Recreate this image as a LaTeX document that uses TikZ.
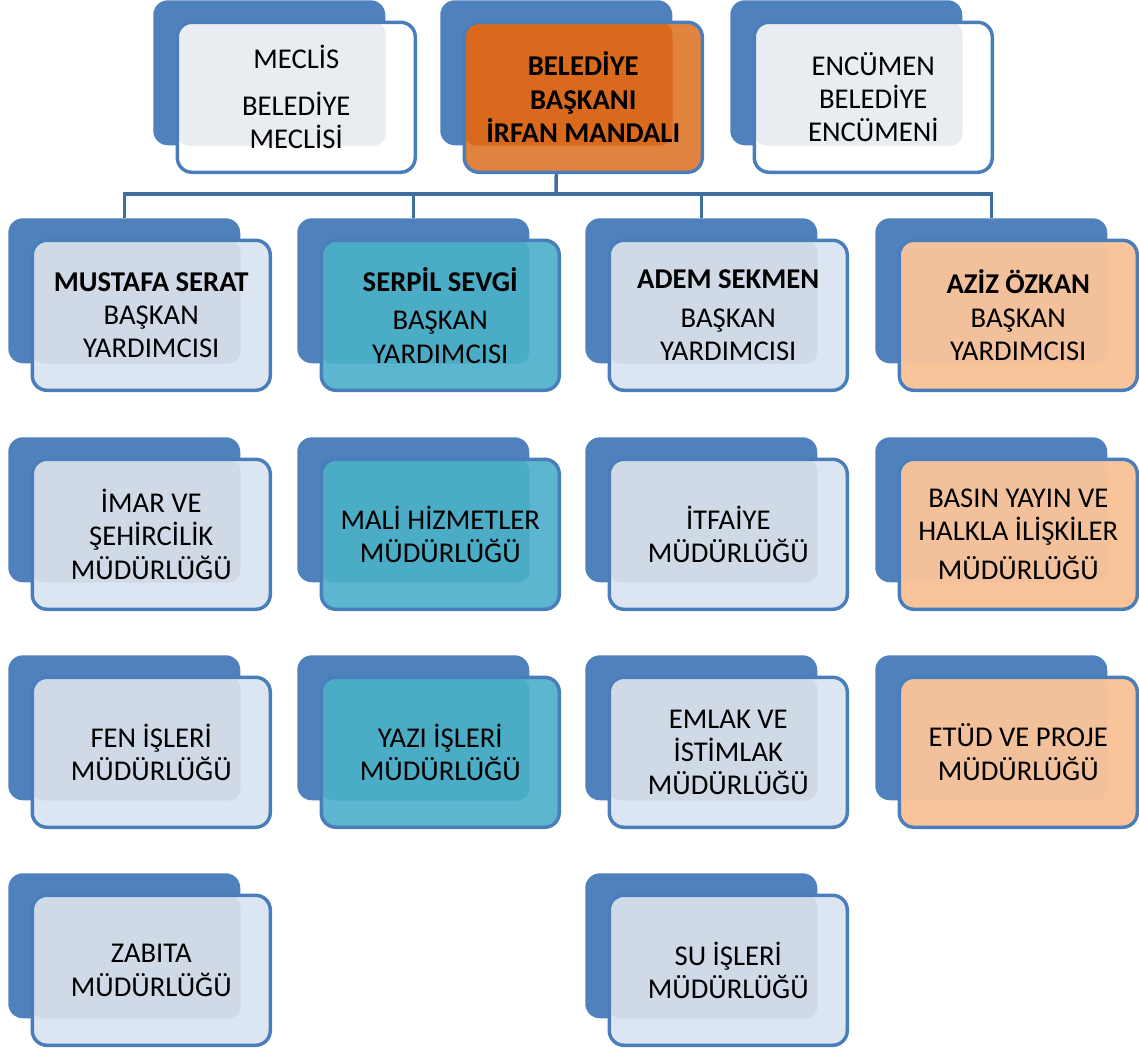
\documentclass[tikz,border=0pt]{standalone}
\usepackage{fontspec}
\setmainfont{Carlito}
\definecolor{backblue}{HTML}{4F81BD}
\definecolor{borderblue}{HTML}{4A7EBB}
\definecolor{connblue}{HTML}{3F6D9E}
\definecolor{lightfill}{HTML}{DCE6F2}
\definecolor{lightover}{HTML}{D0DAE7}
\definecolor{whitefill}{HTML}{FFFFFF}
\definecolor{whiteover}{HTML}{E9ECF0}
\definecolor{orangefill}{HTML}{E0833F}
\definecolor{orangeover}{HTML}{D96A1D}
\definecolor{tealfill}{HTML}{5CB6CF}
\definecolor{tealover}{HTML}{4BACC6}
\definecolor{peachfill}{HTML}{FAC49A}
\definecolor{peachover}{HTML}{F2C19C}
\tikzset{
  backbox/.style={rectangle, rounded corners=11pt, fill=backblue, minimum width=174pt, minimum height=108.75pt, inner sep=0pt, anchor=north west},
  frontbg/.style={rectangle, rounded corners=11pt, minimum width=178.5pt, minimum height=112.5pt, inner sep=0pt, anchor=north west},
  frontline/.style={rectangle, rounded corners=11pt, draw=borderblue, line width=2.6pt, minimum width=178.5pt, minimum height=112.5pt, inner sep=0pt, align=center, text=black, font=\fontsize{21.5}{25}\selectfont},
  conn/.style={draw=connblue, line width=2.6pt}
}
\newcommand{\orgbox}[6]{%
  \node[backbox] (#1b) at (#2,#3) {};
  \node[frontbg, fill=#4] (#1f) at (#2+24,#3+22) {};
  \fill[#5, rounded corners=9pt] (#1f.north west) rectangle (#1b.south east);
  \node[frontline] (#1) at (#1f.center) {#6};
}
\begin{document}
\begin{tikzpicture}[x=0.75pt,y=-0.75pt]
\useasboundingbox (0,0) rectangle (1139,1050);
% top row
\orgbox{meclis}{153}{0}{whitefill}{whiteover}{MECLİS\\[10pt]BELEDİYE\\MECLİSİ}
\orgbox{baskan}{440}{0}{orangefill}{orangeover}{\textbf{BELEDİYE}\\\textbf{BAŞKANI}\\\textbf{İRFAN MANDALI}}
\orgbox{encumen}{730}{0}{whitefill}{whiteover}{ENCÜMEN\\BELEDİYE\\ENCÜMENİ}
% vice presidents
\orgbox{vpa}{8}{218}{lightfill}{lightover}{\textbf{MUSTAFA SERAT}\\BAŞKAN\\YARDIMCISI}
\orgbox{vpb}{297}{218}{tealfill}{tealover}{\textbf{SERPİL SEVGİ}\\[4pt]BAŞKAN\\YARDIMCISI}
\orgbox{vpc}{585}{218}{lightfill}{lightover}{\textbf{ADEM SEKMEN}\\[4pt]BAŞKAN\\YARDIMCISI}
\orgbox{vpd}{875}{218}{peachfill}{peachover}{\textbf{AZİZ ÖZKAN}\\BAŞKAN\\YARDIMCISI}
% row 3
\orgbox{imar}{8}{437}{lightfill}{lightover}{İMAR VE\\ŞEHİRCİLİK\\MÜDÜRLÜĞÜ}
\orgbox{mali}{297}{437}{tealfill}{tealover}{MALİ HİZMETLER\\MÜDÜRLÜĞÜ}
\orgbox{itfaiye}{585}{437}{lightfill}{lightover}{İTFAİYE\\MÜDÜRLÜĞÜ}
\orgbox{basin}{875}{437}{peachfill}{peachover}{BASIN YAYIN VE\\HALKLA İLİŞKİLER\\[4pt]MÜDÜRLÜĞÜ}
% row 4
\orgbox{fen}{8}{655}{lightfill}{lightover}{FEN İŞLERİ\\MÜDÜRLÜĞÜ}
\orgbox{yazi}{297}{655}{tealfill}{tealover}{YAZI İŞLERİ\\MÜDÜRLÜĞÜ}
\orgbox{emlak}{585}{655}{lightfill}{lightover}{EMLAK VE\\İSTİMLAK\\MÜDÜRLÜĞÜ}
\orgbox{etud}{875}{655}{peachfill}{peachover}{ETÜD VE PROJE\\MÜDÜRLÜĞÜ}
% row 5
\orgbox{zabita}{8}{873}{lightfill}{lightover}{ZABITA\\MÜDÜRLÜĞÜ}
\orgbox{su}{585}{873}{lightfill}{lightover}{SU İŞLERİ\\MÜDÜRLÜĞÜ}
% connectors
\coordinate (bus) at (556,194);
\draw[conn] (baskanb.center |- baskan.south) -- (bus);
\draw[conn] (vpab.north) |- (bus) -| (vpdb.north);
\draw[conn] (bus -| vpbb.north) -- (vpbb.north);
\draw[conn] (bus -| vpcb.north) -- (vpcb.north);
\end{tikzpicture}
\end{document}
